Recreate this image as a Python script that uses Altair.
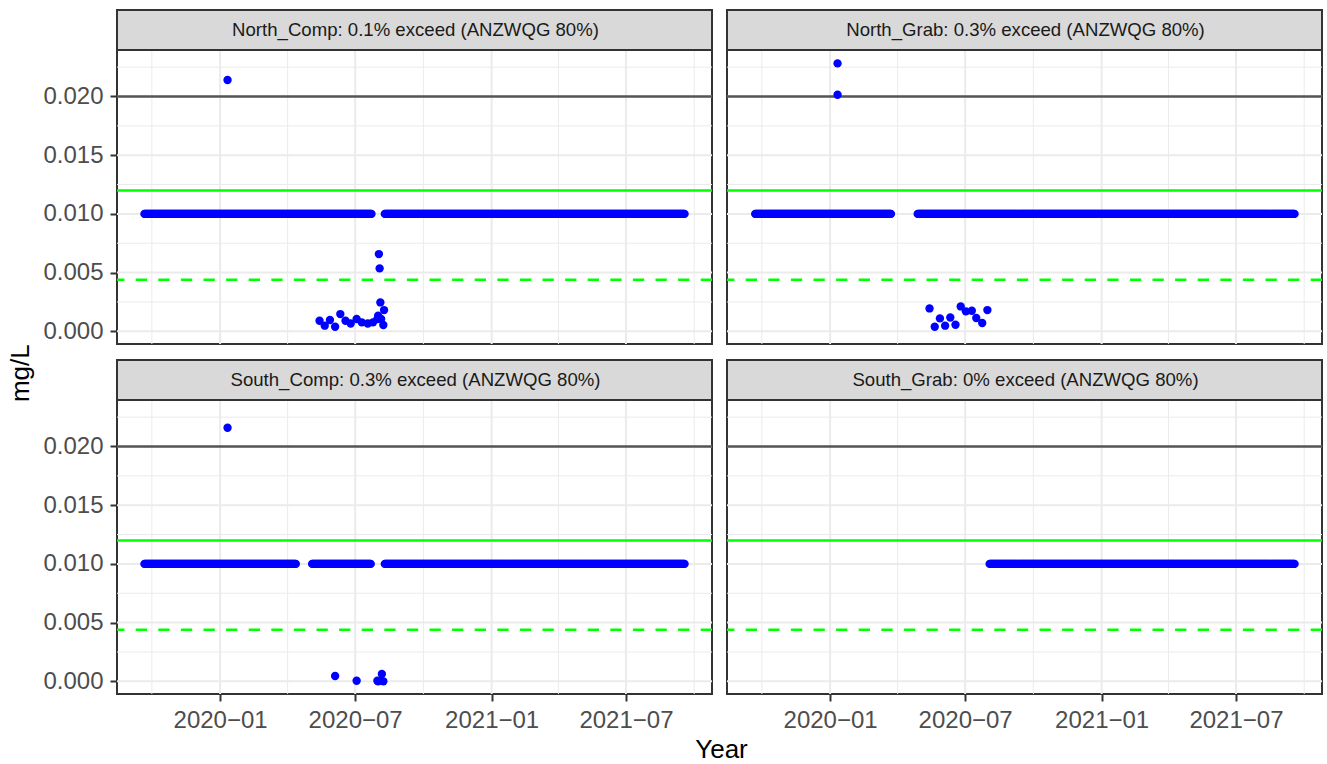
import altair as alt
import pandas as pd

# ---------------- data ----------------
PANELS = ["North_Comp", "North_Grab", "South_Comp", "South_Grab"]
STRIP_LABELS = [
    "North_Comp: 0.1% exceed (ANZWQG 80%)",
    "North_Grab: 0.3% exceed (ANZWQG 80%)",
    "South_Comp: 0.3% exceed (ANZWQG 80%)",
    "South_Grab: 0% exceed (ANZWQG 80%)",
]

# daily results reported at the limit of reporting (0.010 mg/L): runs of days
LOR_VALUE = 0.010
NORTH_COMP_RUN_START = ["2019-09-21", "2020-08-10"]
NORTH_COMP_RUN_END = ["2020-07-23", "2021-09-18"]
NORTH_GRAB_RUN_START = ["2019-09-22", "2020-04-28"]
NORTH_GRAB_RUN_END = ["2020-03-23", "2021-09-18"]
SOUTH_COMP_RUN_START = ["2019-09-21", "2020-05-04", "2020-08-10"]
SOUTH_COMP_RUN_END = ["2020-04-12", "2020-07-22", "2021-09-18"]
SOUTH_GRAB_RUN_START = ["2020-08-03"]
SOUTH_GRAB_RUN_END = ["2021-09-18"]

# other individual results
NORTH_COMP_DATES = ["2020-01-11", "2020-05-14", "2020-05-21", "2020-05-28", "2020-06-04",
                    "2020-06-11", "2020-06-18", "2020-06-25", "2020-07-03", "2020-07-10",
                    "2020-07-18", "2020-07-25", "2020-07-31", "2020-08-01", "2020-08-04",
                    "2020-08-09", "2020-08-08", "2020-08-02", "2020-08-03", "2020-08-05"]
NORTH_COMP_VALUES = [0.0214, 0.00090, 0.00048, 0.00096, 0.00039,
                     0.00147, 0.00090, 0.00067, 0.00105, 0.00076,
                     0.00067, 0.00076, 0.00105, 0.00133, 0.00246,
                     0.00181, 0.00054, 0.00658, 0.00536, 0.00105]
NORTH_GRAB_DATES = ["2020-01-11", "2020-01-11", "2020-05-14", "2020-05-21", "2020-05-28",
                    "2020-06-04", "2020-06-11", "2020-06-18", "2020-06-25", "2020-07-02",
                    "2020-07-10", "2020-07-16", "2020-07-24", "2020-07-31"]
NORTH_GRAB_VALUES = [0.02282, 0.02015, 0.00195, 0.00039, 0.00110,
                     0.00048, 0.00118, 0.00056, 0.00212, 0.00170,
                     0.00175, 0.00113, 0.00071, 0.00181]
SOUTH_COMP_DATES = ["2020-01-11", "2020-06-04", "2020-07-03", "2020-07-31", "2020-08-01",
                    "2020-08-06", "2020-08-08"]
SOUTH_COMP_VALUES = [0.0216, 0.00045, 0.00005, 0.00005, 0.00000,
                     0.00062, 0.00000]
SOUTH_GRAB_DATES = []
SOUTH_GRAB_VALUES = []

# reference lines (mg/L)
GREY_LINE = 0.020
GREEN_SOLID = 0.012
GREEN_DASHED = 0.0044

# axis breaks
X_MAJOR = ["2020-01-01", "2020-07-01", "2021-01-01", "2021-07-01"]
X_MINOR = ["2019-10-01", "2020-04-01", "2020-10-01", "2021-04-01", "2021-10-01"]
Y_MAJOR = [0.000, 0.005, 0.010, 0.015, 0.020]
Y_MINOR = [0.0025, 0.0075, 0.0125, 0.0175, 0.0225]

# ---------------- build tables ----------------
RUN_STARTS = [NORTH_COMP_RUN_START, NORTH_GRAB_RUN_START, SOUTH_COMP_RUN_START, SOUTH_GRAB_RUN_START]
RUN_ENDS = [NORTH_COMP_RUN_END, NORTH_GRAB_RUN_END, SOUTH_COMP_RUN_END, SOUTH_GRAB_RUN_END]
EXTRA_DATES = [NORTH_COMP_DATES, NORTH_GRAB_DATES, SOUTH_COMP_DATES, SOUTH_GRAB_DATES]
EXTRA_VALUES = [NORTH_COMP_VALUES, NORTH_GRAB_VALUES, SOUTH_COMP_VALUES, SOUTH_GRAB_VALUES]


def panel_frame(i):
    dates, vals = [], []
    for s, e in zip(RUN_STARTS[i], RUN_ENDS[i]):
        d = pd.date_range(s, e, freq="D")
        dates += list(d)
        vals += [LOR_VALUE] * len(d)
    dates += list(pd.to_datetime(EXTRA_DATES[i]))
    vals += EXTRA_VALUES[i]
    return pd.DataFrame({"Date": dates, "Value": vals})


W, H = 595, 294
STRIP_H = 40
FONT = "Liberation Sans"
LABEL_SIZE = 24

x_scale = alt.Scale(domain=[alt.DateTime(year=2019, month=8, date=15),
                            alt.DateTime(year=2021, month=10, date=25)])
y_scale = alt.Scale(domain=[-0.00108, 0.02396], nice=False, zero=False)


def make_panel(i, show_x, show_y, x_title=False, y_title=False):
    if show_x:
        x_axis = alt.Axis(
            values=[alt.DateTime(year=int(v[:4]), month=int(v[5:7]), date=1) for v in X_MAJOR],
            labelExpr="timeFormat(datum.value, '%Y') + '\u2212' + timeFormat(datum.value, '%m')",
            grid=False, domain=False, tickSize=7, tickWidth=2, tickColor="#333333",
            labelFontSize=LABEL_SIZE, labelColor="#4D4D4D", labelPadding=7, labelFlush=False,
            labelOverlap=False, labelFont=FONT,
            title="Year" if x_title else None,
            **({"titleX": 604, "titleY": 55.5, "titleBaseline": "middle", "titleAlign": "center",
                "titleFontSize": 26, "titleColor": "black", "titleFontWeight": "normal",
                "titleFont": FONT} if x_title else {}),
        )
    else:
        x_axis = None
    if show_y:
        y_axis = alt.Axis(
            values=Y_MAJOR, format=".3f", grid=False, domain=False, tickSize=7, tickWidth=2,
            tickColor="#333333", labelFontSize=LABEL_SIZE, labelColor="#4D4D4D", labelPadding=7,
            labelFont=FONT,
            title="mg/L" if y_title else None,
            **({"titleX": -97, "titleY": 322.7, "titleBaseline": "middle", "titleAlign": "center",
                "titleAngle": 270, "titleFontSize": 26, "titleColor": "black",
                "titleFontWeight": "normal", "titleFont": FONT} if y_title else {}),
        )
    else:
        y_axis = None

    def X(field):
        return alt.X(field, type="temporal", scale=x_scale, axis=x_axis, title="Year" if x_title else None)

    def Y(field):
        return alt.Y(field, type="quantitative", scale=y_scale, axis=y_axis, title="mg/L" if y_title else None)

    pts = panel_frame(i)
    base = alt.Chart(pts)

    minor_x = alt.Chart(pd.DataFrame({"Date": pd.to_datetime(X_MINOR)})).mark_rule(
        color="#EBEBEB", strokeWidth=1).encode(x=X("Date"))
    major_x = alt.Chart(pd.DataFrame({"Date": pd.to_datetime(X_MAJOR)})).mark_rule(
        color="#EBEBEB", strokeWidth=2).encode(x=X("Date"))
    minor_y = alt.Chart(pd.DataFrame({"Value": Y_MINOR})).mark_rule(
        color="#EBEBEB", strokeWidth=1).encode(y=Y("Value"))
    major_y = alt.Chart(pd.DataFrame({"Value": Y_MAJOR})).mark_rule(
        color="#EBEBEB", strokeWidth=2).encode(y=Y("Value"))

    grey = alt.Chart(pd.DataFrame({"Value": [GREY_LINE]})).mark_rule(
        color="#555555", strokeWidth=2.5).encode(y=Y("Value"))
    green = alt.Chart(pd.DataFrame({"Value": [GREEN_SOLID]})).mark_rule(
        color="#00FF00", strokeWidth=2.5).encode(y=Y("Value"))
    green_d = alt.Chart(pd.DataFrame({"Value": [GREEN_DASHED]})).mark_rule(
        color="#00FF00", strokeWidth=2.5, strokeDash=[11.3, 11.3]).encode(y=Y("Value"))

    points = base.mark_circle(size=70, color="#0000FF", opacity=1).encode(
        x=X("Date"), y=Y("Value"))

    strip_df = pd.DataFrame({"label": [STRIP_LABELS[i]]})
    strip_rect = alt.Chart(strip_df).mark_rect(
        fill="#D9D9D9", stroke="#333333", strokeWidth=2).encode(
        x=alt.value(0), x2=alt.value(W), y=alt.value(-STRIP_H), y2=alt.value(0))
    strip_text = alt.Chart(strip_df).mark_text(
        fontSize=18.6, color="#1A1A1A", align="center", baseline="middle", font=FONT).encode(
        x=alt.value(W / 2 + 1), y=alt.value(-STRIP_H / 2), text="label:N")

    return alt.layer(minor_x, minor_y, major_x, major_y, grey, green, green_d, points,
                     strip_rect, strip_text).properties(width=W, height=H)


tl = make_panel(0, show_x=False, show_y=True, y_title=True)
tr = make_panel(1, show_x=False, show_y=False)
bl = make_panel(2, show_x=True, show_y=True, x_title=True)
br = make_panel(3, show_x=True, show_y=False)

chart = alt.concat(tl, tr, bl, br, columns=2, spacing={"row": 56, "column": 15},
                   bounds="flush").properties(
    padding={"left": 6, "top": 8, "right": 0, "bottom": 0},
    background="white",
).configure(font=FONT).configure_view(stroke="#333333", strokeWidth=2)

chart.save("out.html", embed_options={"renderer": "svg", "actions": False})
